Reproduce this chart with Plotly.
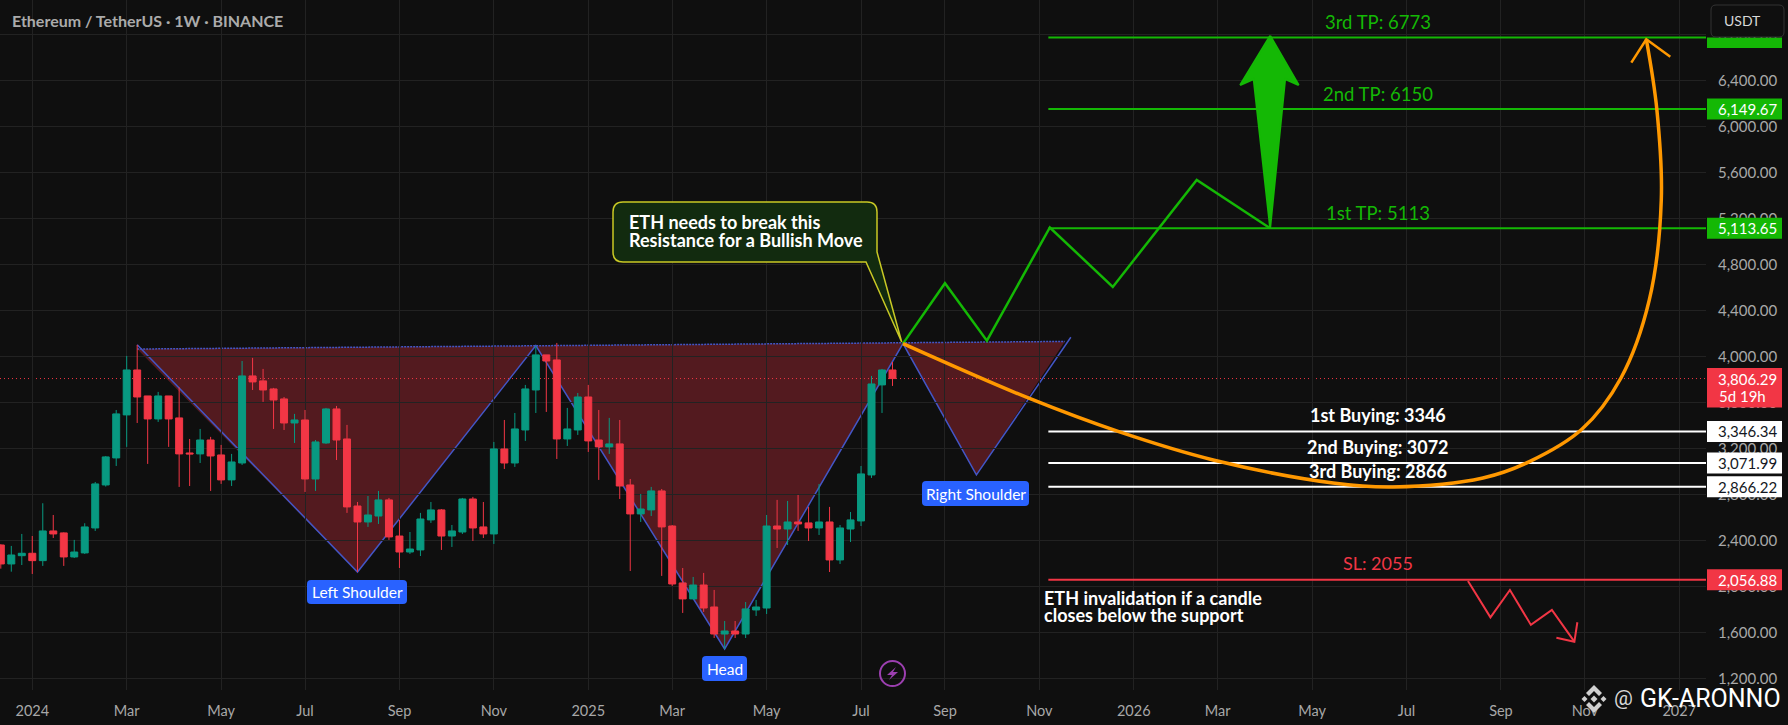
import pandas as pd
import plotly.graph_objects as go

W, H = 1788, 725
PLOT_W, PLOT_H = 1706, 690
BG = "#0f0f0f"
GRID = "#222222"
AXIS_TXT = "#a8a8a8"
UP = "#089981"
DOWN = "#f23645"
TP_GREEN = "#14b805"
BLUE = "#2962ff"
PATTERN = "#4356c6"
ORANGE = "#ff9800"
FONT = "Lato"

# weekly candles
opens = [2359, 2194, 2266, 2287, 2223, 2481, 2464, 2255, 2290, 2507, 2881, 3116, 3490, 3881, 3655, 3455,
         3655, 3464, 3159, 3151, 3272, 3142, 2925, 3072, 3829, 3786, 3716, 3629, 3420, 3446, 2933, 3246,
         3542, 3281, 2698, 2559, 2611, 2751, 2437, 2298, 2316, 2577, 2664, 2437, 2472, 2759, 2516, 2455,
         3194, 3072, 3359, 3707, 4012, 3968, 3281, 3359, 3646, 3272, 3212, 3238, 2881, 2629, 2664, 2829,
         2524, 2029, 1890, 2011, 1820, 1585, 1611, 1585, 1794, 1811, 2524, 2498, 2559, 2551, 2507, 2559,
         2229, 2498, 2568, 2968, 3751, 3881]
highs = [2365, 2351, 2455, 2437, 2722, 2620, 2469, 2403, 2548, 2907, 3133, 3533, 4003, 4099, 3655, 3690,
         3655, 3730, 3281, 3368, 3299, 3229, 3151, 3959, 3986, 3890, 3725, 3646, 3499, 3533, 3272, 3551,
         3568, 3403, 2733, 2785, 2829, 2768, 2577, 2472, 2638, 2733, 2672, 2533, 2768, 2777, 2733, 3255,
         3446, 3507, 3751, 4090, 4012, 4116, 3551, 3681, 3751, 3533, 3464, 3446, 2933, 2803, 2864, 2846,
         2533, 2159, 2081, 2116, 1968, 1698, 1698, 1863, 1881, 2620, 2751, 2742, 2794, 2690, 2890, 2690,
         2533, 2646, 3046, 3829, 3890, 3951]
lows = [2153, 2127, 2185, 2107, 2177, 2420, 2177, 2246, 2281, 2481, 2867, 3046, 3212, 3420, 3064, 3429,
        3212, 2864, 2872, 3072, 2829, 2890, 2872, 3055, 3707, 3603, 3368, 3359, 3246, 2820, 2829, 3238,
        3098, 2638, 2124, 2516, 2542, 2403, 2159, 2281, 2263, 2551, 2316, 2342, 2455, 2394, 2420, 2368,
        3020, 3038, 3264, 3507, 3516, 3107, 3220, 3316, 3168, 2925, 3151, 2759, 2133, 2559, 2611, 2090,
        2003, 1768, 1890, 1777, 1550, 1455, 1550, 1550, 1742, 1759, 2333, 2359, 2481, 2394, 2446, 2124,
        2194, 2385, 2524, 2942, 3507, 3742]
closes = [2194, 2272, 2287, 2223, 2481, 2455, 2255, 2298, 2516, 2890, 3125, 3499, 3881, 3646, 3455, 3655,
          3455, 3151, 3151, 3272, 3133, 2925, 3081, 3829, 3777, 3707, 3620, 3420, 3446, 2933, 3255, 3542,
          3272, 2690, 2559, 2620, 2751, 2429, 2298, 2324, 2585, 2664, 2437, 2481, 2759, 2507, 2455, 3194,
          3072, 3368, 3716, 4012, 3959, 3281, 3368, 3646, 3264, 3212, 3238, 2872, 2629, 2672, 2829, 2516,
          2020, 1890, 2011, 1811, 1585, 1611, 1585, 1803, 1820, 2524, 2498, 2559, 2542, 2507, 2559, 2229,
          2507, 2577, 2977, 3759, 3881, 3806]
candle_dates = pd.date_range("2023-12-11", periods=len(opens), freq="7D")

x_tick_dates = ["2024-01-01", "2024-03-04", "2024-05-06", "2024-07-01", "2024-09-02", "2024-11-04",
                "2025-01-06", "2025-03-03", "2025-05-05", "2025-07-07", "2025-09-01", "2025-11-03",
                "2026-01-05", "2026-03-02", "2026-05-04", "2026-07-06", "2026-09-07", "2026-11-02", "2027-01-04"]
x_tick_labels = ["2024", "Mar", "May", "Jul", "Sep", "Nov", "2025", "Mar", "May", "Jul", "Sep", "Nov",
                 "2026", "Mar", "May", "Jul", "Sep", "Nov", "2027"]
y_ticks = [1200, 1600, 2000, 2400, 2800, 3200, 3600, 4000, 4400, 4800, 5200, 5600, 6000, 6400, 6800]

# inverse head and shoulders drawing
pattern_dates = ["2024-03-11", "2024-08-05", "2024-12-02", "2025-04-07", "2025-08-04", "2025-09-22", "2025-11-24"]
pattern_prices = [4100, 2124, 4093, 1455, 4110, 2968, 4165]
neck_dates = ["2024-03-11", "2025-11-20"]
neck_prices = [4063, 4129]

# target zigzag and arrow
zig_dates = ["2025-08-04", "2025-09-01", "2025-09-29", "2025-11-10", "2025-12-22", "2026-02-16", "2026-04-06"]
zig_prices = [4110, 4635, 4136, 5120, 4603, 5533, 5113]
big_arrow_dates = ["2026-04-06", "2026-04-25", "2026-04-16", "2026-04-06", "2026-03-26", "2026-03-17", "2026-04-06"]
big_arrow_prices = [6788, 6359, 6411, 5116, 6411, 6359, 6788]

# orange path
curve_dates = ["2025-08-04", "2025-10-27", "2025-12-26", "2026-02-27", "2026-05-18", "2026-06-27", "2026-08-26",
               "2026-09-26", "2026-10-31", "2026-11-26", "2026-12-15", "2026-12-23", "2026-12-20", "2026-12-13"]
curve_prices = [4110, 3635, 3344, 3098, 2898, 2864, 2942, 3084, 3365, 3809, 4490, 5359, 6150, 6757]
curve_head_dates = ["2026-12-03", "2026-12-13", "2026-12-29"]
curve_head_prices = [6553, 6757, 6605]

# bearish path below stop
drop_dates = ["2026-08-16", "2026-08-31", "2026-09-13", "2026-09-27", "2026-10-11", "2026-10-26"]
drop_prices = [2046, 1730, 1968, 1664, 1794, 1518]
drop_head_dates = ["2026-10-14", "2026-10-26", "2026-10-28"]
drop_head_prices = [1553, 1518, 1687]

level_start = "2025-11-09"
x_min, x_max = "2023-12-10 11:00", "2027-01-21 20:00"
y_min, y_max = 1098, 7098

tp_levels = [6773, 6149.67, 5113.65]
buy_levels = [3346.34, 3071.99, 2866.22]
sl_level = 2056.88
last_price = 3806.29

def px(x):
    return x / PLOT_W

def py(y):
    return 1 - y / PLOT_H

def rounded_path(x0, y0, x1, y1, r):
    return (f"M {px(x0 + r)} {py(y0)} L {px(x1 - r)} {py(y0)} Q {px(x1)} {py(y0)} {px(x1)} {py(y0 + r)} "
            f"L {px(x1)} {py(y1 - r)} Q {px(x1)} {py(y1)} {px(x1 - r)} {py(y1)} "
            f"L {px(x0 + r)} {py(y1)} Q {px(x0)} {py(y1)} {px(x0)} {py(y1 - r)} "
            f"L {px(x0)} {py(y0 + r)} Q {px(x0)} {py(y0)} {px(x0 + r)} {py(y0)} Z")

def poly_path(points):
    return "M " + " L ".join(f"{px(a)} {py(b)}" for a, b in points) + " Z"

def data_path(xs, ys, close=False):
    p = "M " + " L ".join(f"{a},{b}" for a, b in zip(xs, ys))
    return p + " Z" if close else p

shapes = []
annotations = []

# scatter always sits above candlesticks, so the pattern has to be shapes under the traces
shapes.append(dict(type="path", xref="x", yref="y", layer="below",
                   path=data_path([neck_dates[0]] + pattern_dates[1:6] + [neck_dates[1]],
                                  [neck_prices[0]] + pattern_prices[1:6] + [neck_prices[1]], close=True),
                   fillcolor="rgba(242,54,69,0.3)", line=dict(width=0)))
shapes.append(dict(type="path", xref="x", yref="y", layer="below", path=data_path(pattern_dates, pattern_prices),
                   line=dict(color=PATTERN, width=1.5)))
shapes.append(dict(type="line", xref="x", yref="y", layer="below", x0=neck_dates[0], x1=neck_dates[1],
                   y0=neck_prices[0], y1=neck_prices[1], line=dict(color=PATTERN, width=1.5, dash="2px,1px")))
shapes.append(dict(type="line", xref="x", yref="y", layer="below", x0=x_min, x1=x_max,
                   y0=last_price, y1=last_price, line=dict(color=DOWN, width=1, dash="1px,3px")))

fig = go.Figure()

fig.add_trace(go.Candlestick(
    x=candle_dates, open=opens, high=highs, low=lows, close=closes,
    increasing=dict(line=dict(color=UP, width=1), fillcolor=UP),
    decreasing=dict(line=dict(color=DOWN, width=1), fillcolor=DOWN),
    whiskerwidth=0,
))

for lvl in tp_levels:
    fig.add_trace(go.Scatter(x=[level_start, x_max], y=[lvl, lvl], mode="lines", line=dict(color=TP_GREEN, width=2)))
for lvl in buy_levels:
    fig.add_trace(go.Scatter(x=[level_start, x_max], y=[lvl, lvl], mode="lines", line=dict(color="#ffffff", width=2)))
fig.add_trace(go.Scatter(x=[level_start, x_max], y=[sl_level, sl_level], mode="lines", line=dict(color=DOWN, width=2)))

fig.add_trace(go.Scatter(x=zig_dates, y=zig_prices, mode="lines", line=dict(color=TP_GREEN, width=2.5)))
fig.add_trace(go.Scatter(x=big_arrow_dates, y=big_arrow_prices, mode="lines", fill="toself", fillcolor=TP_GREEN,
                         line=dict(color=TP_GREEN, width=2)))
fig.add_trace(go.Scatter(x=curve_dates, y=curve_prices, mode="lines",
                         line=dict(color=ORANGE, width=3.5, shape="spline", smoothing=1.0)))
fig.add_trace(go.Scatter(x=curve_head_dates, y=curve_head_prices, mode="lines", line=dict(color=ORANGE, width=2.5)))
fig.add_trace(go.Scatter(x=drop_dates, y=drop_prices, mode="lines", line=dict(color=DOWN, width=2)))
fig.add_trace(go.Scatter(x=drop_head_dates, y=drop_head_prices, mode="lines", line=dict(color=DOWN, width=2)))

def text_at(x, y, txt, size, color, bold=False, xanchor="center"):
    if bold:
        txt = f"<b>{txt}</b>"
    annotations.append(dict(x=x, y=y, xref="x", yref="y", text=txt, showarrow=False, xanchor=xanchor, yanchor="middle",
                            font=dict(family=FONT, size=size, color=color)))

def text_px(x, y, txt, size, color, bold=False, xanchor="center", family=FONT):
    if bold:
        txt = f"<b>{txt}</b>"
    annotations.append(dict(x=px(x), y=py(y), xref="paper", yref="paper", text=txt, showarrow=False, xanchor=xanchor,
                            yanchor="middle", font=dict(family=family, size=size, color=color)))

def pill(x0, y0, x1, y1, txt):
    shapes.append(dict(type="path", xref="paper", yref="paper", path=rounded_path(x0, y0, x1, y1, 4),
                       fillcolor=BLUE, line=dict(width=0)))
    text_px((x0 + x1) / 2, (y0 + y1) / 2, txt, 15.5, "#ffffff")

def tag(price, txt, fill, color, up=10.5, down=10.5):
    shapes.append(dict(type="rect", xref="paper", yref="y", x0=px(1707), x1=px(1782), ysizemode="pixel", yanchor=price,
                       y0=-down, y1=up, fillcolor=fill, line=dict(width=0)))
    if txt:
        annotations.append(dict(x=px(1747), y=price, xref="paper", yref="y", text=txt, showarrow=False,
                                xanchor="center", yanchor="middle",
                                font=dict(family=FONT, size=15, color=color)))

# price tags on the axis, the top one mostly hidden by the USDT button
tag(tp_levels[0], "", TP_GREEN, "#ffffff", up=0)
tag(tp_levels[1], f"{tp_levels[1]:,.2f}", TP_GREEN, "#ffffff")
tag(tp_levels[2], f"{tp_levels[2]:,.2f}", TP_GREEN, "#ffffff")
tag(last_price, f"{last_price:,.2f}", DOWN, "#ffffff", up=10.5, down=29)
text_px(1717, 396, "5d 19h", 15, "#ffffff", xanchor="left")
for lvl in buy_levels:
    tag(lvl, f"{lvl:,.2f}", "#ffffff", "#131722")
tag(sl_level, f"{sl_level:,.2f}", DOWN, "#ffffff")

# USDT button on top of the highest tag
shapes.append(dict(type="path", xref="paper", yref="paper", path=rounded_path(1711, 5, 1784, 37, 5),
                   fillcolor=BG, line=dict(color="#333333", width=1)))
text_px(1722, 20.5, "USDT", 14, "#d8d8d8", xanchor="left")

# callout
callout = (f"M {px(623)} {py(202)} L {px(867)} {py(202)} Q {px(877)} {py(202)} {px(877)} {py(212)} L {px(877)} {py(252)} "
           f"L {px(901.7)} {py(342)} L {px(866)} {py(262)} L {px(623)} {py(262)} Q {px(613)} {py(262)} {px(613)} {py(252)} "
           f"L {px(613)} {py(212)} Q {px(613)} {py(202)} {px(623)} {py(202)} Z")
shapes.append(dict(type="path", xref="paper", yref="paper", path=callout, fillcolor="#122b0f",
                   line=dict(color="#c9c925", width=1.5)))
text_px(627, 222, "ETH needs to break this", 18, "#ffffff", True, "left")
text_px(627, 240, "Resistance for a Bullish Move", 18, "#ffffff", True, "left")

pill(307, 580, 407, 604, "Left Shoulder")
pill(702, 656, 747, 681, "Head")
pill(922, 481, 1029, 506, "Right Shoulder")

# level captions
text_at("2026-06-17", 6907, "3rd TP: 6773", 18.5, TP_GREEN)
text_at("2026-06-17", 6283, "2nd TP: 6150", 18.5, TP_GREEN)
text_at("2026-06-17", 5249, "1st TP: 5113", 18.5, TP_GREEN)
text_at("2026-06-17", 3490, "1st Buying: 3346", 18, "#ffffff", True)
text_at("2026-06-17", 3214, "2nd Buying: 3072", 18, "#ffffff", True)
text_at("2026-06-17", 3005, "3rd Buying: 2866", 18, "#ffffff", True)
text_at("2026-06-17", 2200, "SL: 2055", 18, DOWN)
text_px(1042, 598, "ETH invalidation if a candle", 18, "#ffffff", True, "left")
text_px(1042, 615, "closes below the support", 18, "#ffffff", True, "left")

text_px(10, 20.5, "Ethereum / TetherUS · 1W · BINANCE", 16, "#ababab", True, "left")

# lightning icon
shapes.append(dict(type="circle", xref="paper", yref="paper", x0=px(880), x1=px(905), y0=py(661), y1=py(686),
                   line=dict(color="#9c3fb0", width=2)))
shapes.append(dict(type="path", xref="paper", yref="paper",
                   path=poly_path([(896, 667), (887, 675), (892, 675), (889, 680), (898, 672), (893, 672)]),
                   fillcolor="#9c3fb0", line=dict(width=0)))

# watermark
cx, cy = 1594, 699
logo = [
    [(0, -14), (8, -6), (5, -3), (0, -8), (-5, -3), (-8, -6)],
    [(0, 14), (8, 6), (5, 3), (0, 8), (-5, 3), (-8, 6)],
    [(0, -3.5), (3.5, 0), (0, 3.5), (-3.5, 0)],
    [(-9.5, -3), (-6.5, 0), (-9.5, 3), (-12.5, 0)],
    [(9.5, -3), (12.5, 0), (9.5, 3), (6.5, 0)],
]
for part in logo:
    shapes.append(dict(type="path", xref="paper", yref="paper",
                       path=poly_path([(cx + a, cy + b) for a, b in part]),
                       fillcolor="#d0d0d0", line=dict(width=0)))
text_px(1623, 698, "@", 21, "#d8d8d8", family="Roboto")
text_px(1638, 698, "GK-ARONNO", 25, "#ffffff", xanchor="left", family="Roboto")

fig.update_layout(
    width=W, height=H,
    paper_bgcolor=BG, plot_bgcolor=BG,
    margin=dict(l=0, r=W - PLOT_W, t=0, b=H - PLOT_H, pad=0),
    showlegend=False,
    boxgap=0.05,
    font=dict(family=FONT, color=AXIS_TXT, size=14),
    shapes=shapes,
    annotations=annotations,
    xaxis=dict(type="date", range=[x_min, x_max], rangeslider=dict(visible=False), tickmode="array",
               tickvals=x_tick_dates, ticktext=x_tick_labels, showgrid=True, gridcolor=GRID, gridwidth=1,
               zeroline=False, showline=False, ticks="outside", ticklen=8, tickcolor=BG,
               tickfont=dict(family=FONT, size=14.5, color=AXIS_TXT)),
    yaxis=dict(side="right", range=[y_min, y_max], tickmode="array", tickvals=y_ticks,
               ticktext=[f"{v:,.2f}" for v in y_ticks], showgrid=True, gridcolor=GRID, gridwidth=1,
               zeroline=False, showline=False, ticks="outside", ticklen=8, tickcolor=BG,
               tickfont=dict(family=FONT, size=15, color=AXIS_TXT)),
)

fig.write_html("out.html", config={"displayModeBar": False},
               post_script="document.body.style.margin='0';document.body.style.background='#0f0f0f';document.documentElement.style.overflow='hidden';")
